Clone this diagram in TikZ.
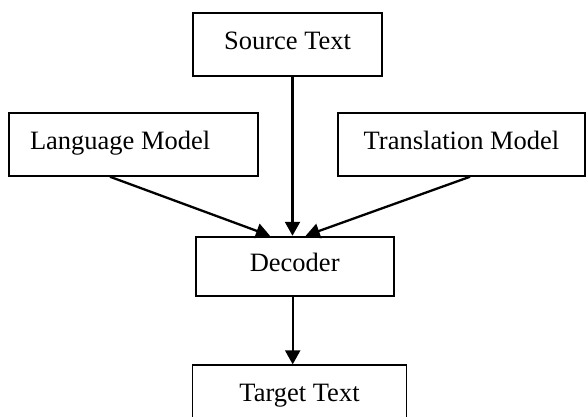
\documentclass[tikz,border=0pt]{standalone}
\usepackage{fontspec}
\setmainfont{Liberation Serif}
\usetikzlibrary{positioning,calc,arrows.meta}
\tikzset{
  bx/.style={rectangle, draw=black, line width=1.9pt, minimum height=63pt, text height=18pt, text depth=8pt, text centered, font=\fontsize{26.5}{30}\selectfont},
  ln/.style={line width=2.3pt, ->},
  >={Triangle[length=14pt, width=15pt]},
  node distance=7mm
}
\begin{document}
\begin{tikzpicture}[x=1pt, y=1pt]
	\useasboundingbox (0,0) rectangle (586,-417);
	\clip (0,0) rectangle (586,-417);
	\node[bx, minimum width=189pt] (src) at (287.5,-44.3) {Source Text};
	\node[bx, minimum width=249pt] (lm) at (133.5,-144.3) {\makebox[207pt][l]{Language Model}};
	\node[bx, minimum width=247pt] (tm) at (461.5,-144.3) {Translation Model};
	\node[bx, minimum width=198pt, minimum height=59pt, below=159pt of src, xshift=7.2pt] (dec) {Decoder};
	\node[bx, minimum width=214pt, below=67.7pt of dec, xshift=4.8pt] (tgt) {Target Text};
		%
	\draw[ln] ($(src.south)+(5,0)$) -- ($(dec.north)+(-2.2,0)$);
	\draw[ln] ($(lm.south)+(-23.5,0)$) -- ($(dec.north)+(-24.7,0)$);
	\draw[ln] ($(tm.south)+(8.5,0)$) -- ($(dec.north)+(11,0)$);
	\draw[ln] ($(dec.south)+(-2,0)$) -- ($(tgt.north)+(-6.8,0)$);
\end{tikzpicture}
\end{document}
